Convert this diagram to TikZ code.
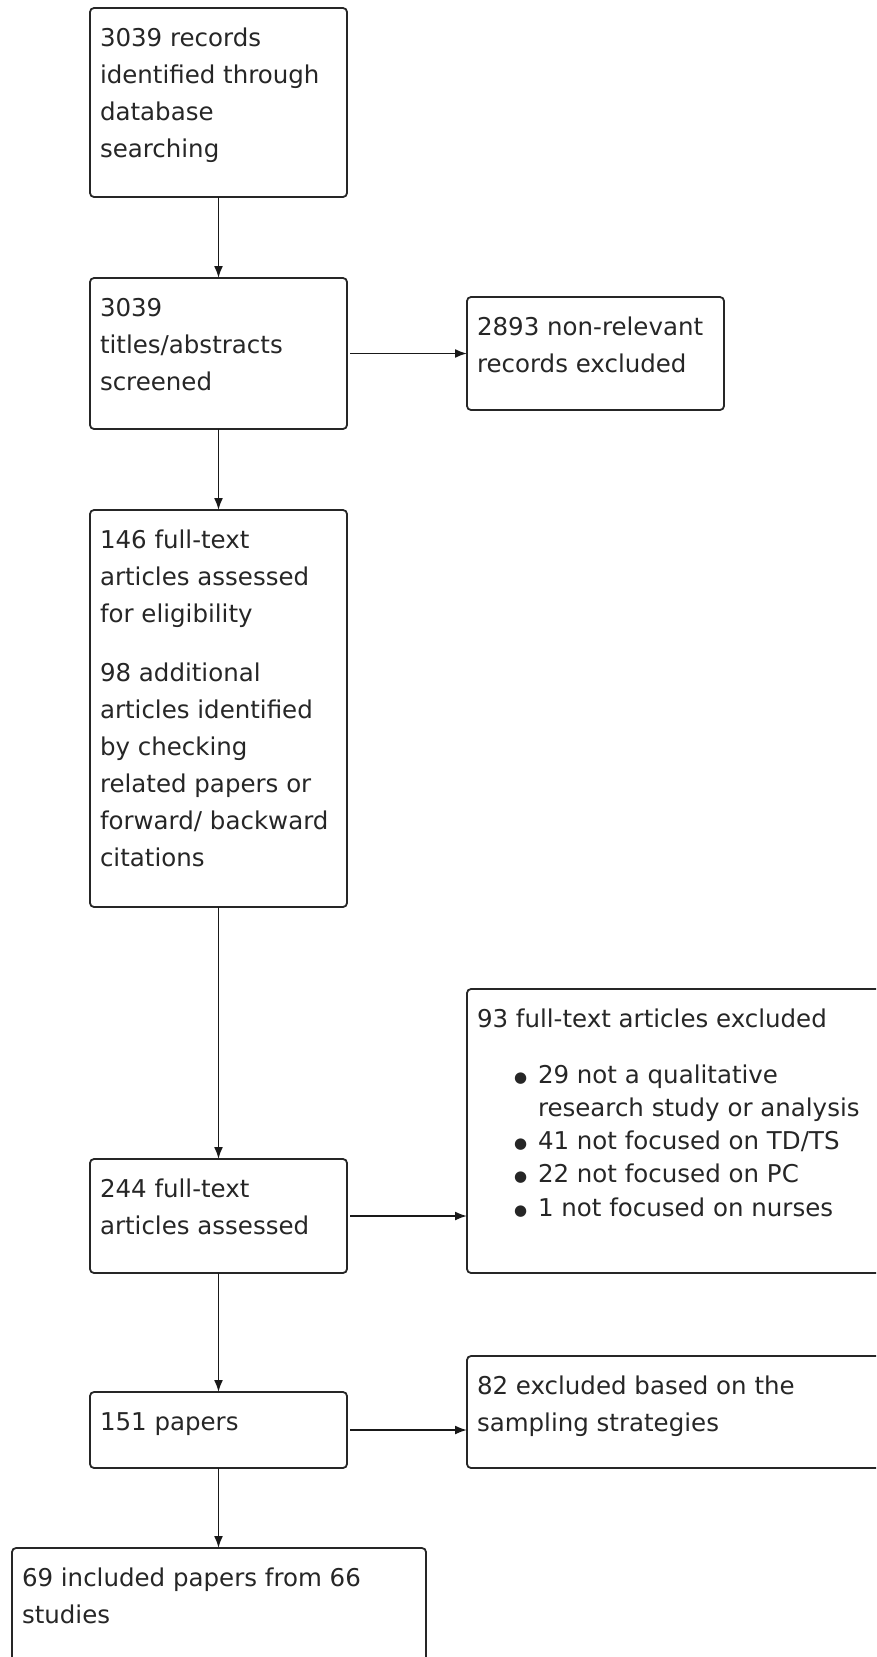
\documentclass[tikz,border=0pt]{standalone}
\usepackage{fontspec}
\setmainfont{DejaVu Sans}
\usetikzlibrary{arrows.meta}
\newcommand{\bxt}[3]{\parbox[c][#2pt][t]{#1pt}{\raggedright\rule{0pt}{38pt}#3}}
\newcommand{\blt}{\makebox[61pt][l]{\hspace{37pt}\raisebox{1pt}{\fontsize{15}{15}\selectfont ●}}}
\begin{document}
\begin{tikzpicture}[x=1pt,y=-1pt,
  box/.style={draw=black!85, line width=1.8pt, rounded corners=4pt, inner xsep=10pt, inner ysep=0pt,
    outer sep=0pt, anchor=north west, font=\fontsize{24.5}{37}\selectfont, text=black!85},
  arr/.style={draw=black!90, line width=1.8pt, -{Latex[length=12pt,width=9pt]}},
  harr/.style={arr, shorten <=3pt}]
\useasboundingbox (0,0) rectangle (876,1657);
\clip (0,0) rectangle (876,1657);
\node[box] (b1) at (90,8) {\bxt{237}{189}{3039 records\\identified through\\database\\searching}};
\node[box] (b2) at (90,278) {\bxt{237}{151}{3039\\titles/abstracts\\screened}};
\node[box] (b3) at (467,297) {\bxt{237}{113}{2893 non-relevant\\records excluded}};
\node[box] (b4) at (90,510) {\bxt{237}{397}{146 full-text\\articles assessed\\for eligibility\par\vspace{22pt}98 additional\\articles identified\\by checking\\related papers or\\forward/ backward\\citations}};
\node[box] (b5) at (467,989) {\bxt{403}{284}{93 full-text articles excluded\\[19pt]
  \blt 29 not a qualitative\\[-3.7pt]
  \hspace*{61pt}research study or analysis\\[-3.7pt]
  \blt 41 not focused on TD/TS\\[-3.7pt]
  \blt 22 not focused on PC\\[-3.7pt]
  \blt 1 not focused on nurses}};
\node[box] (b6) at (90,1159) {\bxt{237}{114}{244 full-text\\articles assessed}};
\node[box] (b7) at (467,1356) {\bxt{403}{112}{82 excluded based on the\\sampling strategies}};
\node[box] (b8) at (90,1392) {\bxt{237}{76}{151 papers}};
\node[box] (b9) at (12,1548) {\bxt{394}{130}{69 included papers from 66\\studies}};
\draw[arr] (b1.south) -- (b1.south |- b2.north);
\draw[arr] (b2.south) -- (b2.south |- b4.north);
\draw[arr] (b4.south) -- (b4.south |- b6.north);
\draw[arr] (b6.south) -- (b6.south |- b8.north);
\draw[arr] (b8.south) -- (b8.south |- b9.north);
\draw[harr] (b2.east) -- (b2.east -| b3.west);
\draw[harr] (b6.east) -- (b6.east -| b5.west);
\draw[harr] (b8.east) -- (b8.east -| b7.west);
\end{tikzpicture}
\end{document}
